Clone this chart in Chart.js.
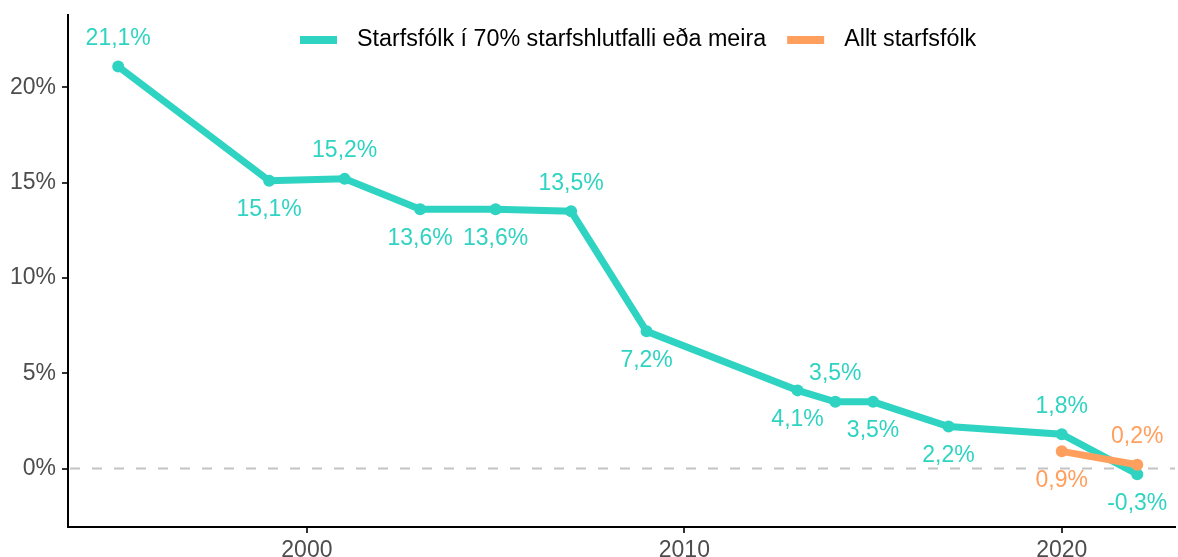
<!DOCTYPE html>
<html>
<head>
<meta charset="utf-8">
<script src="https://cdn.jsdelivr.net/npm/chart.js@4"></script>
<style>
  html, body { margin: 0; padding: 0; background: #fff; }
  #wrap { width: 1178px; height: 557px; }
</style>
</head>
<body>
<div id="wrap"><canvas id="chart"></canvas></div>
<script>
// ==== DATA ====
const fullYears = [1995, 1999, 2001, 2003, 2005, 2007, 2009, 2013, 2014, 2015, 2017, 2020, 2022];
const fullValues = [21.1, 15.1, 15.2, 13.6, 13.6, 13.5, 7.2, 4.1, 3.5, 3.5, 2.2, 1.8, -0.3];
const fullLabelPos = ["up", "down", "up", "down", "down", "up", "down", "down", "up", "down", "down", "up", "down"];
const allYears = [2020, 2022];
const allValues = [0.9, 0.2];
const allLabelPos = ["down", "up"];
const seriesNames = ["Starfsfólk í 70% starfshlutfalli eða meira", "Allt starfsfólk"];
const yTicks = [0, 5, 10, 15, 20];
const xTicks = [2000, 2010, 2020];

const TEAL = "#2fd3c1";
const ORANGE = "#ff9f5e";
const FONT = "'Liberation Sans', Arial, sans-serif";

const fmt = v => v.toFixed(1).replace(".", ",") + "%";

// ==== PLUGINS ====
const zeroLine = {
  id: "zeroLine",
  beforeDatasetsDraw(chart) {
    const { ctx, chartArea, scales } = chart;
    const y = scales.y.getPixelForValue(0);
    ctx.save();
    ctx.strokeStyle = "#c4c4c4";
    ctx.lineWidth = 2;
    ctx.setLineDash([10, 12]);
    ctx.beginPath();
    ctx.moveTo(chartArea.left + 2, y);
    ctx.lineTo(chartArea.right, y);
    ctx.stroke();
    ctx.restore();
  }
};

const pointLabels = {
  id: "pointLabels",
  afterDatasetsDraw(chart) {
    const { ctx } = chart;
    ctx.save();
    ctx.font = "23px " + FONT;
    ctx.textAlign = "center";
    ctx.textBaseline = "middle";
    chart.data.datasets.forEach((ds, i) => {
      const meta = chart.getDatasetMeta(i);
      ctx.fillStyle = ds.borderColor;
      meta.data.forEach((pt, j) => {
        const off = ds.labelPos[j] === "up" ? -28 : 29;
        ctx.fillText(fmt(ds.data[j].y), pt.x, pt.y + off);
      });
    });
    ctx.restore();
  }
};

const topLegend = {
  id: "topLegend",
  afterDraw(chart) {
    const { ctx } = chart;
    ctx.save();
    ctx.font = "23.3px " + FONT;
    ctx.textBaseline = "middle";
    const y = 40;
    let x = 300;
    chart.data.datasets.forEach(ds => {
      ctx.fillStyle = ds.borderColor;
      ctx.fillRect(x, y - 4, 37, 8);
      ctx.fillStyle = "#000";
      ctx.fillText(ds.label, x + 57, y);
      x += 57 + ctx.measureText(ds.label).width + 21;
    });
    ctx.restore();
  }
};

// ==== CHART ====
const toPoints = (xs, ys) => xs.map((x, i) => ({ x, y: ys[i] }));

const lineStyle = color => ({
  borderColor: color,
  backgroundColor: color,
  borderWidth: 7,
  pointRadius: 6,
  pointBorderWidth: 0,
  pointHoverRadius: 6,
  tension: 0
});

new Chart(document.getElementById("chart"), {
  type: "line",
  data: {
    datasets: [
      Object.assign({ label: seriesNames[0], data: toPoints(fullYears, fullValues), labelPos: fullLabelPos, order: 1 }, lineStyle(TEAL)),
      Object.assign({ label: seriesNames[1], data: toPoints(allYears, allValues), labelPos: allLabelPos, order: 0 }, lineStyle(ORANGE))
    ]
  },
  options: {
    responsive: true,
    maintainAspectRatio: false,
    animation: false,
    layout: { autoPadding: false, padding: { top: 15, right: 3, left: 0, bottom: 0 } },
    plugins: {
      legend: { display: false },
      tooltip: { enabled: false }
    },
    scales: {
      x: {
        type: "linear",
        min: 1993.67,
        max: 2023,
        afterBuildTicks: s => { s.ticks = xTicks.map(v => ({ value: v })); },
        afterFit: s => { s.height = 30; s.paddingLeft = 0; s.paddingRight = 0; },
        grid: { drawOnChartArea: false, drawTicks: true, tickLength: 6, color: "#333", lineWidth: 2 },
        border: { display: true, color: "#000", width: 2 },
        ticks: {
          color: "#4d4d4d",
          font: { family: FONT, size: 23 },
          padding: 4,
          maxRotation: 0,
          callback: v => String(v)
        }
      },
      y: {
        min: -3.07,
        max: 23.8,
        afterBuildTicks: s => { s.ticks = yTicks.map(v => ({ value: v })); },
        afterFit: s => { s.width = 68; s.paddingTop = 0; s.paddingBottom = 0; },
        grid: { drawOnChartArea: false, drawTicks: true, tickLength: 6, color: "#333", lineWidth: 2 },
        border: { display: true, color: "#000", width: 2 },
        ticks: {
          color: "#4d4d4d",
          font: { family: FONT, size: 23 },
          padding: 6,
          callback: v => v + "%"
        }
      }
    }
  },
  plugins: [zeroLine, pointLabels, topLegend]
});
</script>
</body>
</html>
